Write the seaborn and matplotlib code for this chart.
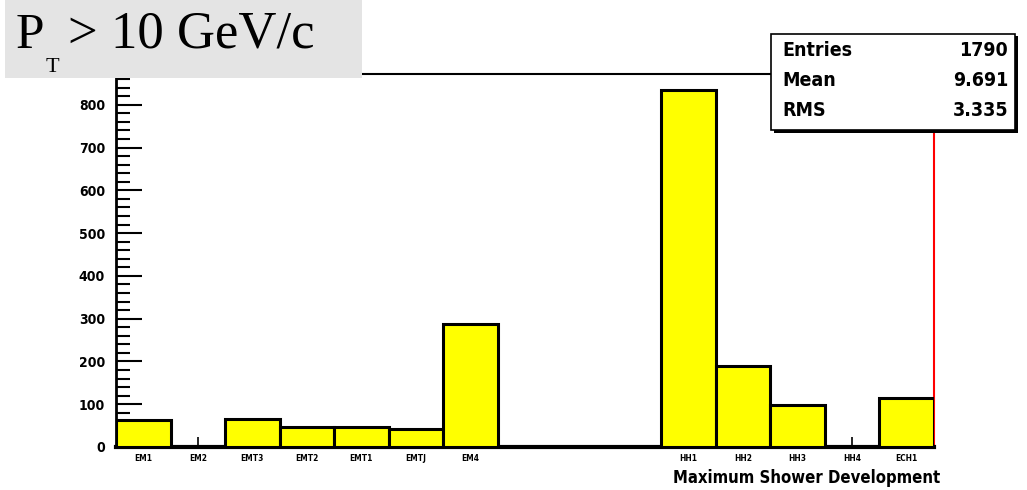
import numpy as np
import matplotlib
matplotlib.use('Agg')
import matplotlib.pyplot as plt
import matplotlib.patches as mpatches
from matplotlib.ticker import MultipleLocator
import seaborn as sns

# histogram content
bin_labels = ['EM1', 'EM2', 'EMT3', 'EMT2', 'EMT1', 'EMTJ', 'EM4', '', '', '',
              'HH1', 'HH2', 'HH3', 'HH4', 'ECH1']
counts = [63, 0, 65, 47, 47, 42, 288, 0, 0, 0, 835, 189, 98, 0, 115]
stats_names = ['Entries', 'Mean', 'RMS']
stats_values = ['1790', '9.691', '3.335']

sns.set_style('white')
plt.rcParams['font.family'] = ['DejaVu Sans']
plt.rcParams['font.stretch'] = 'condensed'
plt.rcParams['text.color'] = 'black'
plt.rcParams['xtick.color'] = 'black'
plt.rcParams['ytick.color'] = 'black'

W, H = 1027, 490
fig = plt.figure(figsize=(W / 100, H / 100), dpi=100)
ax = fig.add_axes([116 / W, 1 - 447 / H, (934 - 116) / W, (447 - 74) / H])

idx = np.arange(len(counts))
sns.histplot(x=idx, weights=counts, discrete=True, shrink=1, ax=ax,
             color='#ffff00', alpha=1, edgecolor='black', linewidth=2.2, zorder=3)

ax.set_xlim(-0.5, len(counts) - 0.5)
ax.set_ylim(0, 872)
ax.set_xlabel('')
ax.set_ylabel('')

# x ticks only where a label exists
tick_pos = [i for i, l in enumerate(bin_labels) if l]
ax.set_xticks(tick_pos)
ax.set_xticklabels([bin_labels[i] for i in tick_pos], fontsize=6, fontweight='bold',
                   fontstretch='condensed')
ax.tick_params(axis='x', direction='in', length=7, width=1.2, pad=5, bottom=True)

ax.yaxis.set_major_locator(MultipleLocator(100))
ax.yaxis.set_minor_locator(MultipleLocator(20))
ax.tick_params(axis='y', which='major', direction='in', length=19, width=1.5,
               labelsize=10, pad=8, left=True)
ax.tick_params(axis='y', which='minor', direction='in', length=10, width=1.5, left=True)
for t in ax.get_yticklabels():
    t.set_fontweight('bold')
    t.set_fontstretch('condensed')

for side in ['left', 'bottom', 'top']:
    ax.spines[side].set_color('black')
ax.spines['left'].set_linewidth(2)
ax.spines['bottom'].set_linewidth(3)
ax.spines['top'].set_linewidth(1.5)
ax.spines['right'].set_color('red')
ax.spines['right'].set_linewidth(1.5)
ax.spines['right'].set_zorder(2)

fig.text(940 / W, 1 - 478 / H, 'Maximum Shower Development', ha='right', va='center',
         fontsize=12, fontweight='bold', fontstretch='condensed')

# title box
fig.patches.append(mpatches.Rectangle((5 / W, 1 - 78 / H), 357 / W, 78 / H,
                                      transform=fig.transFigure, facecolor='#e4e4e4',
                                      edgecolor='none', zorder=5))
serif = ['Liberation Serif', 'DejaVu Serif']
fig.text(16 / W, 1 - 48 / H, 'P', family=serif, fontsize=37, ha='left', va='baseline', zorder=6)
fig.text(46 / W, 1 - 72 / H, 'T', family=serif, fontsize=16, ha='left', va='baseline', zorder=6)
fig.text(68 / W, 1 - 48 / H, '> 10 GeV/c', family=serif, fontsize=38, ha='left', va='baseline',
         zorder=6)

# stats box with shadow
fig.patches.append(mpatches.Rectangle((774 / W, 1 - 133 / H), 244 / W, 97 / H,
                                      transform=fig.transFigure, facecolor='black',
                                      edgecolor='none', zorder=5))
fig.patches.append(mpatches.Rectangle((771 / W, 1 - 130 / H), 244 / W, 96 / H,
                                      transform=fig.transFigure, facecolor='white',
                                      edgecolor='black', linewidth=1.2, zorder=6))
for k, (n, v) in enumerate(zip(stats_names, stats_values)):
    y = 1 - (50 + 30 * k) / H
    fig.text(782 / W, y, n, ha='left', va='center', fontsize=14, fontweight='bold',
             fontstretch='condensed', zorder=7)
    fig.text(1008 / W, y, v, ha='right', va='center', fontsize=14, fontweight='bold',
             fontstretch='condensed', zorder=7)

fig.savefig('out.png', dpi=100)
